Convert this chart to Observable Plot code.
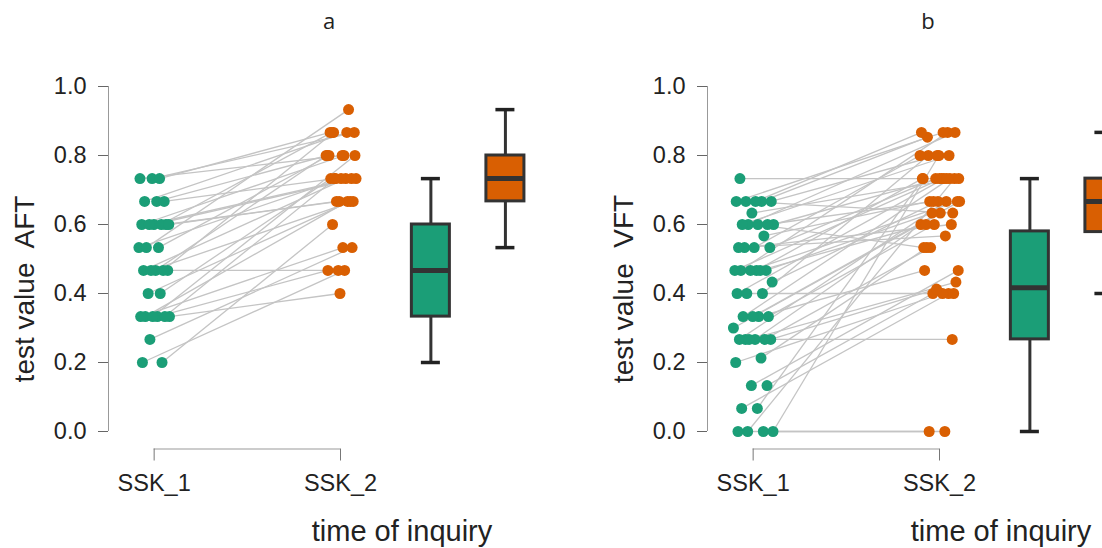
<!DOCTYPE html>
<html><head><meta charset="utf-8">
<script src="https://cdn.jsdelivr.net/npm/d3@7"></script>
<script src="https://cdn.jsdelivr.net/npm/@observablehq/plot@0.6"></script>
<style>
html,body{margin:0;padding:0;background:#fff;overflow:hidden;}
#wrap{display:flex;width:1200px;height:548px;}
#wrap svg{flex:none;overflow:hidden;}
</style></head><body><div id="wrap"></div>
<script>
// ---------- data ----------
const times = ["SSK_1", "SSK_2"];
const panelTitles = ["a", "b"];
const yLabels = ["test value  AFT", "test value  VFT"];
const xLabel = "time of inquiry";
const yTicks = [0, 0.2, 0.4, 0.6, 0.8, 1.0];

// panel a (AFT): paired values per subject
const aftSSK1 = [0.200,0.200,0.267,0.333,0.333,0.333,0.333,0.333,0.333,0.400,0.400,0.467,0.467,0.467,0.467,0.467,0.533,0.533,0.533,0.600,0.600,0.600,0.600,0.600,0.600,0.667,0.667,0.667,0.733,0.733,0.733];
const aftSSK2 = [0.467,0.600,0.533,0.400,0.467,0.667,0.733,0.800,0.533,0.733,0.667,0.467,0.800,0.733,0.867,0.667,0.733,0.800,0.933,0.667,0.733,0.800,0.867,0.733,0.667,0.800,0.867,0.733,0.867,0.800,0.867];

// panel b (VFT): paired values per subject
const vftSSK1 = [0,0,0,0,0.067,0.067,0.133,0.133,0.200,0.213,0.267,0.267,0.267,0.267,0.267,0.267,0.300,0.333,0.333,0.333,0.333,0.400,0.400,0.400,0.433,0.467,0.467,0.467,0.467,0.467,0.467,0.533,0.533,0.533,0.533,0.567,0.600,0.600,0.600,0.600,0.600,0.633,0.667,0.667,0.667,0.667,0.667,0.733];
const vftSSK2 = [0,0,0.733,0.800,0.733,0.400,0.400,0.467,0.400,0.533,0.267,0.413,0.600,0.667,0.533,0.433,0.633,0.467,0.733,0.600,0.667,0.733,0.800,0.400,0.667,0.733,0.867,0.633,0.667,0.733,0.600,0.600,0.733,0.800,0.567,0.667,0.867,0.733,0.533,0.800,0.667,0.733,0.867,0.853,0.633,0.800,0.867,0.733];

// box summaries as drawn: [lower whisker, Q1, median, Q3, upper whisker]
const aftBoxSSK1 = [0.200, 0.333, 0.467, 0.600, 0.733];
const aftBoxSSK2 = [0.533, 0.667, 0.733, 0.800, 0.933];
const vftBoxSSK1 = [0.000, 0.267, 0.417, 0.580, 0.733];
const vftBoxSSK2 = [0.400, 0.578, 0.667, 0.733, 0.867];

// ---------- layout ----------
const COLORS = ["#1b9e77", "#d95f02"];
const FONT = "'Liberation Sans', Arial, Helvetica, sans-serif";
const W = 599, H = 548;
const X_AXIS_POS = 0.755;          // x-value where the y axis sits
const X_POS = [1, 2];              // SSK_1, SSK_2 strip positions
const BOX_POS = [2.485, 2.885];    // box positions
const BOX_HALF = 0.102, CAP_HALF = 0.051;
const AXIS_OFFSET = 17.5;          // R-style detached x axis

function jit(i, t, amp) {
  const f = (i * 0.6180339887 + t * 0.5 + 0.13) % 1;
  return (f - 0.5) * 2 * amp;
}

function panel(s1, s2, b1, b2, title, ylab, amp) {
  const rows = s1.map((v, i) => ({
    x1: X_POS[0] + jit(i, 0, amp), y1: v,
    x2: X_POS[1] + jit(i, 1, amp), y2: s2[i]
  }));
  const pts = rows.flatMap(r => [
    {time: times[0], x: r.x1, y: r.y1},
    {time: times[1], x: r.x2, y: r.y2}
  ]);
  const boxes = [b1, b2].map((s, k) => ({
    time: times[k], pos: BOX_POS[k],
    bx1: BOX_POS[k] - BOX_HALF, bx2: BOX_POS[k] + BOX_HALF,
    cx1: BOX_POS[k] - CAP_HALF, cx2: BOX_POS[k] + CAP_HALF,
    lo: s[0], q1: s[1], med: s[2], q3: s[3], hi: s[4]
  }));
  return Plot.plot({
    width: W, height: H,
    marginLeft: 108, marginRight: 0, marginTop: 86, marginBottom: 117,
    x: {domain: [X_AXIS_POS, X_POS[1]], range: [108, 340], axis: null},
    y: {domain: [0, 1], axis: null},
    color: {domain: times, range: COLORS},
    style: {fontFamily: FONT, background: "#fff", color: "#222"},
    marks: [
      Plot.ruleX([X_AXIS_POS], {y1: 0, y2: 1, stroke: "#999", strokeWidth: 1}),
      Plot.axisY({ticks: yTicks, tickSize: 10, tickPadding: 12, tickFormat: d3.format(".1f"),
                  fontSize: 23.5, stroke: "#666", fill: "#222"}),
      Plot.ruleY([0], {x1: X_POS[0], x2: X_POS[1], dy: AXIS_OFFSET, stroke: "#999", strokeWidth: 1}),
      Plot.axisX({ticks: X_POS, tickFormat: d => times[X_POS.indexOf(d)], tickSize: 12, tickPadding: 13,
                  dy: AXIS_OFFSET, fontSize: 23.5, stroke: "#777", fill: "#222"}),
      Plot.link(rows, {x1: "x1", y1: "y1", x2: "x2", y2: "y2", stroke: "#c4c4c4", strokeWidth: 1.3}),
      Plot.dot(pts, {x: "x", y: "y", fill: "time", r: 5.5}),
      Plot.ruleX(boxes, {x: "pos", y1: "lo", y2: "hi", stroke: "#333", strokeWidth: 3}),
      Plot.rect(boxes, {x1: "bx1", x2: "bx2", y1: "q1", y2: "q3", fill: "time", stroke: "#333", strokeWidth: 3}),
      Plot.ruleY(boxes, {y: "med", x1: "bx1", x2: "bx2", stroke: "#333", strokeWidth: 5}),
      Plot.ruleY(boxes, {y: "lo", x1: "cx1", x2: "cx2", stroke: "#222", strokeWidth: 3.5}),
      Plot.ruleY(boxes, {y: "hi", x1: "cx1", x2: "cx2", stroke: "#222", strokeWidth: 3.5}),
      Plot.text([title], {frameAnchor: "top", lineAnchor: "middle", dx: -25, dy: -65, fontSize: 22,
                          fontFamily: "'Open Sans', sans-serif", fill: "#222"}),
      Plot.text([xLabel], {frameAnchor: "bottom", lineAnchor: "middle", dx: 48, dy: 100, fontSize: 29, fill: "#222"}),
      Plot.text([ylab], {frameAnchor: "left", textAnchor: "middle", rotate: -90, dx: -75, dy: 30, fontSize: 28,
                         lineAnchor: "bottom", fill: "#222", style: "white-space:pre"})
    ]
  });
}

const wrap = document.getElementById("wrap");
wrap.appendChild(panel(aftSSK1, aftSSK2, aftBoxSSK1, aftBoxSSK2, panelTitles[0], yLabels[0], 0.085));
wrap.appendChild(panel(vftSSK1, vftSSK2, vftBoxSSK1, vftBoxSSK2, panelTitles[1], yLabels[1], 0.11));
</script>
</body></html>
